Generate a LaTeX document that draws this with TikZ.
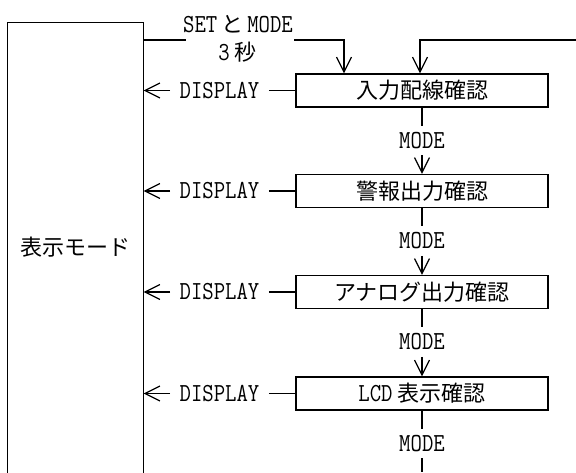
\documentclass[tikz,border=0pt]{standalone}
\usepackage{fontspec}
\usetikzlibrary{arrows.meta,positioning}
\newfontfamily\jpfont{Noto Sans CJK JP}
\newfontfamily\latfont{Latin Modern Mono}[FakeStretch=0.85]
\newcommand\jpsize{\fontsize{22}{24}\selectfont}
\newcommand\latsize{\fontsize{26}{28}\selectfont}

\begin{document}
\begin{tikzpicture}[x=1pt,y=-1pt,line width=1.2pt,
  chkbox/.style={draw,minimum width=252pt,minimum height=33pt,inner sep=0pt,font=\jpfont\jpsize},
  keylbl/.style={font=\latfont\latsize,inner xsep=9pt,inner ysep=6pt},
  arr/.style={-{Straight Barb[length=15pt,width=15pt]}}]

\useasboundingbox (0,0) rectangle (576,472);

%-------------------------------------------------------------------
% Display mode (box open at the bottom)
\node[minimum width=135pt,minimum height=449pt,inner sep=0pt,font=\jpfont\jpsize] (dsp) at (75.5,247.5) {表示モード};
\draw (dsp.south west) -- (dsp.north west) -- (dsp.north east) -- (dsp.south east);

%-------------------------------------------------------------------
% Entry: SET + MODE for 3 s, and the return line from the right
\node[keylbl] (setm) at (238,24) {SET\hspace{4pt}{\jpfont\jpsize と}\hspace{4pt}MODE};
\node[keylbl] (sec3) at (237.5,52) {3\hspace{5pt}{\jpfont\jpsize 秒}};
\coordinate (setL) at (186,40);
\coordinate (setR) at (294,40);
\coordinate (ret) at (576,40);

%-------------------------------------------------------------------
% Check steps, DISPLAY back to display mode, MODE to the next step
\foreach \i/\y/\txt in {1/90.5/入力配線確認,2/191/警報出力確認,3/292/アナログ出力確認,4/393.5/{{\latfont\latsize LCD}\hspace{5pt}表示確認}}{
    \node[chkbox] (cfm\i) at (422,\y) {\txt};
    \node[keylbl] (disp\i) at (219.5,\y) {DISPLAY};
    \draw[arr] (disp\i.west) -- (disp\i.west -| dsp.east);
    \draw (disp\i.east) -- (cfm\i.west);
    \node[keylbl] (mode\i) at (422,\y+50) {MODE};
    \draw (cfm\i.south) -- (mode\i.north);
}
\foreach \i/\j in {1/2,2/3,3/4}{
    \draw[arr] (mode\i.south) -- (cfm\j.north);}

\draw (dsp.north east |- setL) -- (setL);
\draw[arr] (setR) -| ([xshift=-78pt]cfm1.north);
\draw[arr] (ret) -| ([xshift=-2pt]cfm1.north);

\coordinate (loopend) at (422,472);
\draw (mode4.south) -- (loopend);

\end{tikzpicture}
\end{document}
